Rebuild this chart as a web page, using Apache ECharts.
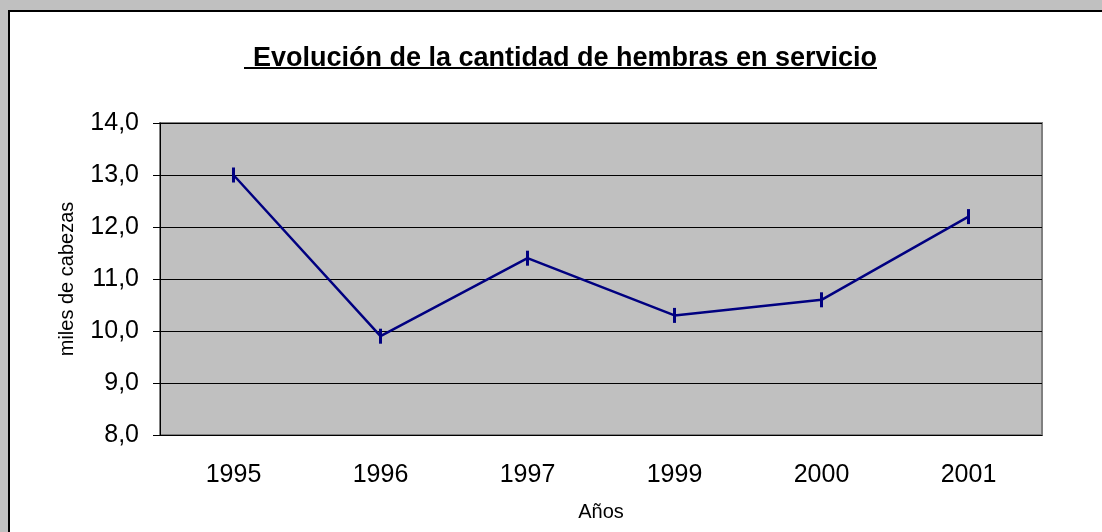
<!DOCTYPE html>
<html>
<head>
<meta charset="utf-8">
<script src="https://cdn.jsdelivr.net/npm/echarts@6/dist/echarts.min.js"></script>
<style>
  html, body { margin: 0; padding: 0; background: #c0c0c0; }
  #main { width: 1102px; height: 532px; }
</style>
</head>
<body>
<div id="main"></div>
<script>
var years = ['1995', '1996', '1997', '1999', '2000', '2001'];
var hembras = [13.0, 9.9, 11.4, 10.3, 10.6, 12.2];

var myChart = echarts.init(document.getElementById('main'));
var font = 'Liberation Sans, Arial, sans-serif';

var option = {
    backgroundColor: '#c0c0c0',
    animation: false,
    graphic: [
        {
            type: 'rect', z: -10,
            shape: { x: 9, y: 11, width: 1200, height: 600 },
            style: { fill: '#ffffff', stroke: '#000000', lineWidth: 2 }
        },
        {
            type: 'line',
            shape: { x1: 244, y1: 68, x2: 877, y2: 68 },
            style: { stroke: '#000000', lineWidth: 2 }
        }
    ],
    title: {
        text: 'Evolución de la cantidad de hembras en servicio',
        left: 560, top: 40, textAlign: 'center',
        textStyle: { fontFamily: font, fontSize: 27, fontWeight: 'bold', color: '#000' }
    },
    grid: {
        left: 160, top: 123, width: 882, height: 312,
        show: true, backgroundColor: '#c0c0c0', borderColor: '#808080', borderWidth: 2
    },
    xAxis: {
        type: 'category',
        data: years,
        name: 'Años',
        nameLocation: 'middle',
        nameGap: 67,
        nameTextStyle: { fontFamily: font, fontSize: 20, color: '#000' },
        axisLine: { lineStyle: { color: '#000', width: 1 } },
        axisTick: { length: 7, lineStyle: { color: '#000' } },
        axisLabel: { fontFamily: font, fontSize: 25, color: '#000', margin: 28 }
    },
    yAxis: {
        type: 'value',
        min: 8, max: 14, interval: 1,
        name: 'miles de cabezas',
        nameLocation: 'middle',
        nameGap: 83,
        nameTextStyle: { fontFamily: font, fontSize: 20, color: '#000' },
        axisLine: { show: true, lineStyle: { color: '#000', width: 1 } },
        axisTick: { show: true, length: 7, lineStyle: { color: '#000' } },
        splitLine: { lineStyle: { color: '#000', width: 1 } },
        axisLabel: {
            fontFamily: font, fontSize: 25, color: '#000', margin: 21,
            formatter: function (v) { return v.toFixed(1).replace('.', ','); }
        }
    },
    series: [
        {
            type: 'line',
            data: hembras,
            symbol: 'rect',
            symbolSize: [3, 15],
            lineStyle: { color: '#000080', width: 2.5 },
            itemStyle: { color: '#000080' }
        }
    ]
};

myChart.setOption(option);
window.addEventListener('resize', function () {
    myChart.resize();
});
</script>
</body>
</html>
